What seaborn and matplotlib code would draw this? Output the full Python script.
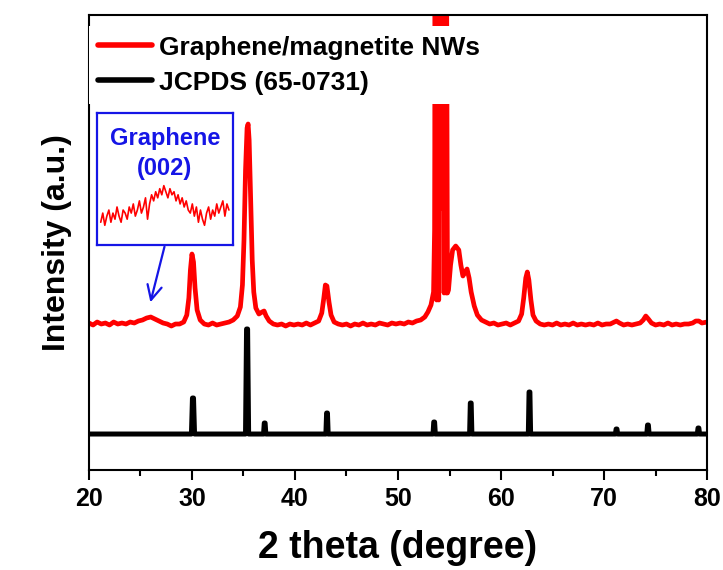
import numpy as np
import pandas as pd
import seaborn as sns
from matplotlib import pyplot as plt

# measured XRD pattern (graphene/magnetite NWs), intensity in arbitrary units
red_2theta = [20.0, 20.4, 20.8, 21.2, 21.6, 22.0, 22.4, 22.8, 23.2, 23.6, 24.0, 24.4, 24.8, 25.2, 25.6,
              26.0, 26.4, 26.8, 27.2, 27.6, 28.0, 28.4, 28.8, 29.2, 29.5, 29.7, 29.85, 30.0, 30.15, 30.3,
              30.5, 30.8, 31.2, 31.6, 32.0, 32.4, 32.8, 33.2, 33.6, 34.0, 34.4, 34.7, 34.9, 35.05, 35.2,
              35.35, 35.45, 35.55, 35.7, 35.85, 36.0, 36.2, 36.5, 36.8, 37.0, 37.2, 37.5, 37.9, 38.3, 38.7,
              39.1, 39.5, 39.9, 40.3, 40.7, 41.1, 41.5, 41.9, 42.3, 42.6, 42.8, 42.95, 43.1, 43.3, 43.5,
              43.8, 44.2, 44.6, 45.0, 45.4, 45.8, 46.2, 46.6, 47.0, 47.4, 47.8, 48.2, 48.6, 49.0, 49.4,
              49.8, 50.2, 50.6, 51.0, 51.4, 51.8, 52.2, 52.6, 52.9, 53.2, 53.45, 53.55,
              53.6, 53.65, 53.7, 53.75, 53.8, 53.85, 53.9, 53.95, 54.0, 54.05, 54.1, 54.15, 54.2, 54.25,
              54.3, 54.35, 54.4, 54.47, 54.52, 54.57, 54.62, 54.67, 54.72, 54.8, 54.9,
              55.1, 55.3, 55.6, 55.9, 56.1, 56.3, 56.5, 56.7, 56.9, 57.1,
              57.4, 57.7, 58.1, 58.5, 58.9, 59.3, 59.7, 60.1, 60.5, 60.9, 61.3, 61.7, 62.0, 62.2, 62.4,
              62.55, 62.7, 62.9, 63.1, 63.4, 63.8, 64.2, 64.6, 65.0, 65.4, 65.8, 66.2, 66.6, 67.0, 67.4,
              67.8, 68.2, 68.6, 69.0, 69.4, 69.8, 70.2, 70.6, 71.0, 71.2, 71.5, 71.9, 72.3, 72.7, 73.1,
              73.5, 73.8, 74.05, 74.3, 74.6, 75.0, 75.4, 75.8, 76.2, 76.6, 77.0, 77.4, 77.8, 78.2, 78.6,
              78.9, 79.2, 79.5, 80.0]
red_counts = [147, 145, 148, 146, 147, 145, 148, 146, 147, 146, 148, 147, 149, 150, 152,
              153, 151, 149, 147, 146, 144, 146, 146, 148, 155, 172, 200, 216, 208, 182,
              160, 150, 146, 145, 147, 145, 146, 147, 148, 150, 154, 163, 185, 230, 300,
              342, 346, 330, 270, 210, 178, 162, 156, 158, 159, 154, 149, 146, 145, 146,
              144, 146, 145, 146, 145, 147, 145, 147, 149, 157, 172, 185, 184, 168, 155,
              148, 146, 145, 146, 144, 146, 145, 147, 145, 146, 145, 147, 146, 145, 147,
              146, 147, 146, 148, 147, 149, 150, 153, 158, 165, 178, 240,
              480, 172, 480, 170, 480, 172, 480, 170, 480, 262, 480, 262, 480, 262,
              480, 262, 480, 177, 480, 178, 480, 177, 480, 177, 180,
              205, 220, 224, 220, 205, 194, 198, 201, 192, 178,
              164, 155, 150, 148, 146, 147, 145, 146, 147, 145, 147, 149, 156, 172, 192,
              198, 190, 170, 155, 149, 146, 145, 146, 145, 147, 145, 146, 145, 147, 145,
              146, 145, 146, 145, 147, 145, 146, 146, 148, 149, 147, 145, 146, 145, 146,
              147, 150, 154, 151, 147, 145, 146, 145, 147, 145, 146, 145, 146, 146, 147,
              149, 149, 147, 148]

# JCPDS 65-0731 reference lines
ref_2theta = [20.0,
              29.95, 30.05, 30.15, 30.25,
              35.2, 35.3, 35.4, 35.5,
              36.95, 37.02, 37.1, 37.17,
              43.0, 43.07, 43.15, 43.22,
              53.4, 53.47, 53.55, 53.62,
              56.95, 57.02, 57.1, 57.17,
              62.65, 62.72, 62.8, 62.87,
              71.1, 71.17, 71.25, 71.32,
              74.15, 74.22, 74.3, 74.37,
              79.05, 79.12, 79.2, 79.27,
              80.0]
ref_counts = [36,
              36, 72, 72, 36,
              36, 141, 141, 36,
              36, 47, 47, 36,
              36, 57, 57, 36,
              36, 48, 48, 36,
              36, 67, 67, 36,
              36, 78, 78, 36,
              36, 41, 41, 36,
              36, 45, 45, 36,
              36, 42, 42, 36,
              36]

# zoomed graphene (002) region for the inset
inset_counts = [9, 12, 8, 11, 13, 9, 12, 10, 14, 11, 9, 13, 12, 10, 14, 12, 15, 11, 13, 16, 12, 14,
                17, 10, 15, 18, 16, 19, 17, 20, 18, 21, 19, 17, 20, 18, 19, 16, 18, 15, 17, 14, 16,
                13, 12, 15, 11, 14, 9, 13, 10, 8, 12, 14, 10, 13, 11, 15, 12, 14, 16, 11, 15, 13]

x_ticks = [20, 30, 40, 50, 60, 70, 80]

RED = '#ff0000'
BLUE = '#1515e6'

sns.set_style('ticks')
plt.rcParams['font.family'] = ['Liberation Sans', 'DejaVu Sans']
plt.rcParams['font.weight'] = 'bold'
plt.rcParams['text.color'] = 'black'
plt.rcParams['axes.labelcolor'] = 'black'
plt.rcParams['xtick.color'] = 'black'
plt.rcParams['ytick.color'] = 'black'

red_df = pd.DataFrame({'2theta': red_2theta, 'I': red_counts})
ref_df = pd.DataFrame({'2theta': ref_2theta, 'I': ref_counts})

fig = plt.figure(figsize=(7.23, 5.70), dpi=100)
ax = fig.add_axes([0.123, 0.1754, 0.855, 0.7983])

sns.lineplot(data=red_df, x='2theta', y='I', ax=ax, color=RED, lw=3.4,
             label='Graphene/magnetite NWs', sort=False, estimator=None)
sns.lineplot(data=ref_df, x='2theta', y='I', ax=ax, color='black', lw=3.6,
             label='JCPDS (65-0731)', sort=False, estimator=None)

ax.set_xlim(20, 80)
ax.set_ylim(0, 455)
ax.set_xticks(x_ticks)
ax.set_xticks(np.arange(25, 80, 10), minor=True)
ax.set_yticks([])
ax.tick_params(axis='x', which='major', direction='out', length=7, width=1.5, labelsize=18, pad=5)
ax.tick_params(axis='x', which='minor', direction='out', length=4, width=1.5)
for lab in ax.get_xticklabels():
    lab.set_fontweight('bold')
for sp in ax.spines.values():
    sp.set_linewidth(1.5)
    sp.set_color('black')

ax.set_xlabel('2 theta (degree)', fontsize=27, fontweight='bold', labelpad=14)
ax.set_ylabel('Intensity (a.u.)', fontsize=23, fontweight='bold', labelpad=12)

leg = ax.legend(loc='upper left', bbox_to_anchor=(0.0, 0.975), fontsize=19, frameon=True,
                framealpha=1, edgecolor='none', fancybox=False, handlelength=2.05,
                handletextpad=0.25, labelspacing=0.42, borderpad=0.35, borderaxespad=0)
for line in leg.get_lines():
    line.set_linewidth(4)
for t in leg.get_texts():
    t.set_fontweight('bold')

# arrow from inset to the graphene bump
ax.annotate('', xy=(25.9, 165), xytext=(27.4, 226),
            arrowprops=dict(arrowstyle='->', color=BLUE, lw=1.6, mutation_scale=26))

# inset
ins = fig.add_axes([0.134, 0.570, 0.188, 0.2316])
ins_x = np.linspace(0, 1, len(inset_counts))
sns.lineplot(x=ins_x, y=inset_counts, ax=ins, color=RED, lw=1.2)
ins.set_xlim(-0.03, 1.03)
ins.set_ylim(1.5, 44.8)
ins.set_xticks([])
ins.set_yticks([])
ins.set_xlabel('')
ins.set_ylabel('')
for sp in ins.spines.values():
    sp.set_color(BLUE)
    sp.set_linewidth(1.6)
ins.text(0.5, 0.81, 'Graphene', transform=ins.transAxes, ha='center', va='center',
         color=BLUE, fontsize=17, fontweight='bold')
ins.text(0.5, 0.58, '(002)', transform=ins.transAxes, ha='center', va='center',
         color=BLUE, fontsize=17, fontweight='bold')

fig.savefig('out.png', dpi=100)
